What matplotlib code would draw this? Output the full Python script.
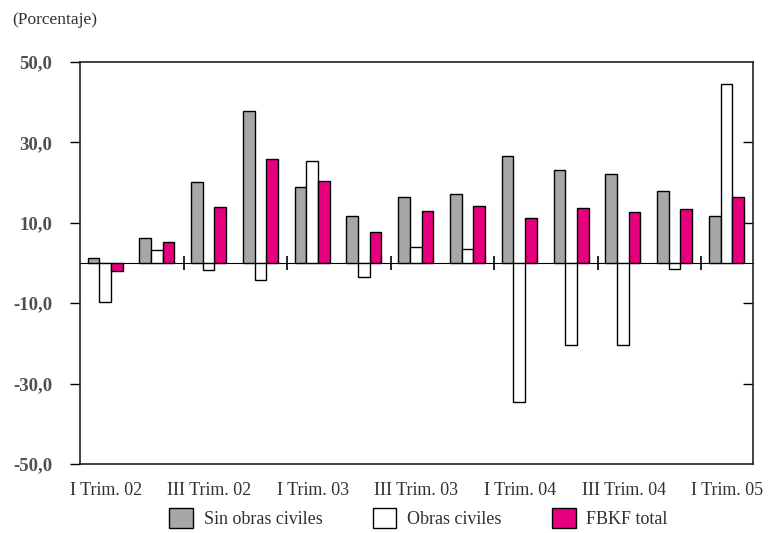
import matplotlib
matplotlib.use("Agg")
import matplotlib.pyplot as plt
import numpy as np
from matplotlib.patches import Patch

quarters = ["I Trim. 02", "II Trim. 02", "III Trim. 02", "IV Trim. 02",
            "I Trim. 03", "II Trim. 03", "III Trim. 03", "IV Trim. 03",
            "I Trim. 04", "II Trim. 04", "III Trim. 04", "IV Trim. 04",
            "I Trim. 05"]
sin_obras = [1.2, 6.1, 20.1, 37.7, 18.8, 11.8, 16.3, 17.1, 26.6, 23.2, 22.1, 17.9, 11.8]
obras_civiles = [-9.6, 3.3, -1.8, -4.3, 25.4, -3.5, 4.0, 3.6, -34.7, -20.3, -20.3, -1.4, 44.6]
fbkf_total = [-2.0, 5.2, 13.9, 25.8, 20.5, 7.8, 13.0, 14.3, 11.3, 13.8, 12.6, 13.4, 16.3]
ytick_vals = [50, 30, 10, -10, -30, -50]
ytick_labels = ["50,0", "30,0", "10,0", "-10,0", "-30,0", "-50,0"]

plt.rcParams['font.family'] = ['Liberation Serif', 'DejaVu Serif']

fig = plt.figure(figsize=(7.68, 5.33), dpi=100)
ax = fig.add_axes([80/768, 1-464/533, (753-80)/768, (464-62)/533])

x = np.arange(len(quarters))
w = 0.225
gray = "#A7A7AA"
pink = "#E6007E"
ax.bar(x - 0.24, sin_obras, w, color=gray, edgecolor="black", linewidth=1, label="Sin obras civiles")
ax.bar(x - 0.015, obras_civiles, w, color="white", edgecolor="black", linewidth=1, label="Obras civiles")
ax.bar(x + 0.21, fbkf_total, w, color=pink, edgecolor="black", linewidth=1, label="FBKF total")

ax.set_xlim(-0.5, len(quarters) - 0.5)
ax.set_ylim(-50, 50)
ax.set_yticks(ytick_vals)
ax.set_yticklabels(ytick_labels, fontsize=13.5, fontweight="bold", color="#505050")
ax.tick_params(axis="y", direction="out", length=7, width=1, pad=13)
ax.set_xticks(x[::2])
ax.set_xticklabels(quarters[::2], fontsize=13, color="#303030")
ax.tick_params(axis="x", length=0, pad=13)

for s in ax.spines.values():
    s.set_linewidth(1.2)
    s.set_color("#222222")

# right-side inner ticks
sec_y = ax.secondary_yaxis("right")
sec_y.set_yticks([30, 10, -10, -30])
sec_y.tick_params(direction="in", length=7, width=1, labelright=False, labelleft=False)
sec_y.spines["right"].set_visible(False)

# zero line with boundary ticks
sec_x = ax.secondary_xaxis(0.5)
sec_x.set_xticks(np.arange(1.5, len(quarters) - 1, 2))
sec_x.set_xticklabels([])
sec_x.tick_params(direction="inout", length=10, width=1.2,
                  labelbottom=False, labeltop=False)
sec_x.spines["bottom"].set_linewidth(1.2)

fig.text(12/768, 1-20/533, "(Porcentaje)", fontsize=12.5, va="center", ha="left", color="#303030")

handles = [Patch(facecolor=gray, edgecolor="black"),
           Patch(facecolor="white", edgecolor="black"),
           Patch(facecolor=pink, edgecolor="black")]
fig.legend(handles, ["Sin obras civiles", "Obras civiles", "FBKF total"],
           loc="center", bbox_to_anchor=(0.545, 1-518/533), ncol=3, frameon=False,
           fontsize=13, handlelength=1.3, handleheight=1.3, columnspacing=2.8,
           handletextpad=0.6, labelcolor="#303030")

fig.savefig("out.png", dpi=100)
